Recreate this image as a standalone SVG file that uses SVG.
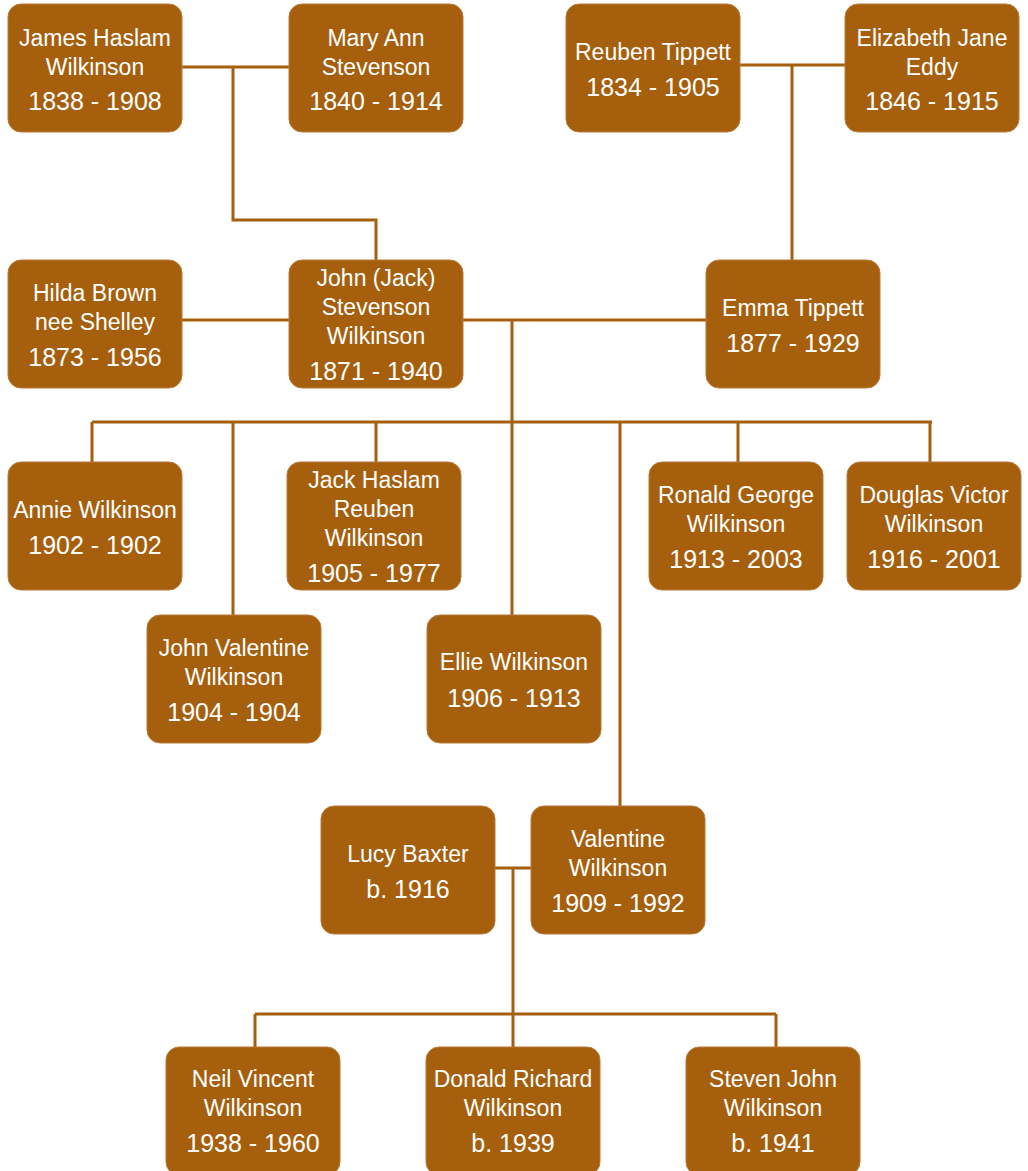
<svg xmlns="http://www.w3.org/2000/svg" width="1028" height="1171" viewBox="0 0 1028 1171">
<style>
.box{fill:#A65F0D;stroke:#B87A3A;stroke-width:1}
.n{font-family:"Liberation Sans",Arial,sans-serif;font-size:23px;fill:#FFFFFF;text-anchor:middle}
.d{font-family:"Liberation Sans",Arial,sans-serif;font-size:25px;fill:#FFFFFF;text-anchor:middle}
.c{fill:none;stroke:#A65F0D;stroke-width:3}
</style>
<rect width="1028" height="1171" fill="#FFFFFF"/>
<g id="connectors">
<path class="c" d="M181 67H289M233 67V220H376V260"/>
<path class="c" d="M739 65H845M792 65V260"/>
<path class="c" d="M181 320H289"/>
<path class="c" d="M462 320H706M512 320V615"/>
<path class="c" d="M92 422H932M92 422V462M233 422V615M376 422V462M620 422V806M738 422V462M930 422V462"/>
<path class="c" d="M494 868H531M513 868V1047M255 1014H776M255 1014V1047M776 1014V1047"/>
</g>
<g id="james"><rect class="box" x="8" y="4" width="174" height="128" rx="13"/><text class="n" x="95" y="46">James Haslam</text><text class="n" x="95" y="75">Wilkinson</text><text class="d" x="95" y="110">1838 - 1908</text></g>
<g id="mary"><rect class="box" x="289" y="4" width="174" height="128" rx="13"/><text class="n" x="376" y="46">Mary Ann</text><text class="n" x="376" y="75">Stevenson</text><text class="d" x="376" y="110">1840 - 1914</text></g>
<g id="reuben"><rect class="box" x="566" y="4" width="174" height="128" rx="13"/><text class="n" x="653" y="60">Reuben Tippett</text><text class="d" x="653" y="96">1834 - 1905</text></g>
<g id="elizabeth"><rect class="box" x="845" y="4" width="174" height="128" rx="13"/><text class="n" x="932" y="46">Elizabeth Jane</text><text class="n" x="932" y="75">Eddy</text><text class="d" x="932" y="110">1846 - 1915</text></g>
<g id="hilda"><rect class="box" x="8" y="260" width="174" height="128" rx="13"/><text class="n" x="95" y="301">Hilda Brown</text><text class="n" x="95" y="330">nee Shelley</text><text class="d" x="95" y="366">1873 - 1956</text></g>
<g id="john"><rect class="box" x="289" y="260" width="174" height="128" rx="13"/><text class="n" x="376" y="286">John (Jack)</text><text class="n" x="376" y="315">Stevenson</text><text class="n" x="376" y="344">Wilkinson</text><text class="d" x="376" y="380">1871 - 1940</text></g>
<g id="emma"><rect class="box" x="706" y="260" width="174" height="128" rx="13"/><text class="n" x="793" y="316">Emma Tippett</text><text class="d" x="793" y="352">1877 - 1929</text></g>
<g id="annie"><rect class="box" x="8" y="462" width="174" height="128" rx="13"/><text class="n" x="95" y="518">Annie Wilkinson</text><text class="d" x="95" y="554">1902 - 1902</text></g>
<g id="jackhaslam"><rect class="box" x="287" y="462" width="174" height="128" rx="13"/><text class="n" x="374" y="488">Jack Haslam</text><text class="n" x="374" y="517">Reuben</text><text class="n" x="374" y="546">Wilkinson</text><text class="d" x="374" y="582">1905 - 1977</text></g>
<g id="ronald"><rect class="box" x="649" y="462" width="174" height="128" rx="13"/><text class="n" x="736" y="503">Ronald George</text><text class="n" x="736" y="532">Wilkinson</text><text class="d" x="736" y="568">1913 - 2003</text></g>
<g id="douglas"><rect class="box" x="847" y="462" width="174" height="128" rx="13"/><text class="n" x="934" y="503">Douglas Victor</text><text class="n" x="934" y="532">Wilkinson</text><text class="d" x="934" y="568">1916 - 2001</text></g>
<g id="johnvalentine"><rect class="box" x="147" y="615" width="174" height="128" rx="13"/><text class="n" x="234" y="656">John Valentine</text><text class="n" x="234" y="685">Wilkinson</text><text class="d" x="234" y="721">1904 - 1904</text></g>
<g id="ellie"><rect class="box" x="427" y="615" width="174" height="128" rx="13"/><text class="n" x="514" y="670">Ellie Wilkinson</text><text class="d" x="514" y="707">1906 - 1913</text></g>
<g id="lucy"><rect class="box" x="321" y="806" width="174" height="128" rx="13"/><text class="n" x="408" y="862">Lucy Baxter</text><text class="d" x="408" y="898">b. 1916</text></g>
<g id="valentine"><rect class="box" x="531" y="806" width="174" height="128" rx="13"/><text class="n" x="618" y="847">Valentine</text><text class="n" x="618" y="876">Wilkinson</text><text class="d" x="618" y="912">1909 - 1992</text></g>
<g id="neil"><rect class="box" x="166" y="1047" width="174" height="128" rx="13"/><text class="n" x="253" y="1087">Neil Vincent</text><text class="n" x="253" y="1116">Wilkinson</text><text class="d" x="253" y="1152">1938 - 1960</text></g>
<g id="donald"><rect class="box" x="426" y="1047" width="174" height="128" rx="13"/><text class="n" x="513" y="1087">Donald Richard</text><text class="n" x="513" y="1116">Wilkinson</text><text class="d" x="513" y="1152">b. 1939</text></g>
<g id="steven"><rect class="box" x="686" y="1047" width="174" height="128" rx="13"/><text class="n" x="773" y="1087">Steven John</text><text class="n" x="773" y="1116">Wilkinson</text><text class="d" x="773" y="1152">b. 1941</text></g>
</svg>
